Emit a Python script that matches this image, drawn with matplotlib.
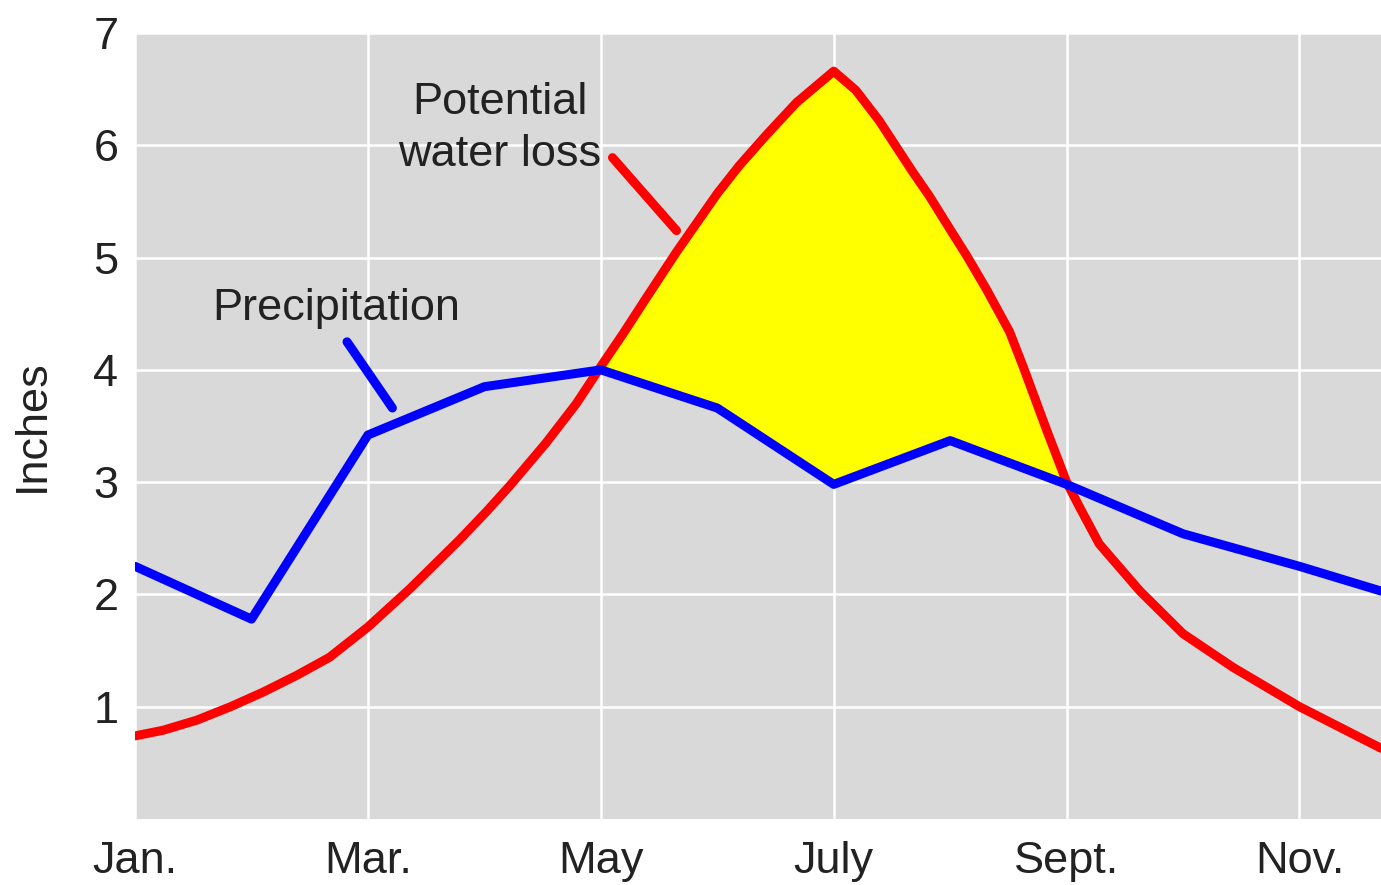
import numpy as np
import matplotlib
matplotlib.use('Agg')
import matplotlib.pyplot as plt

# 月份刻度
month_pos = [0, 2, 4, 6, 8, 10]
month_labels = ['Jan.', 'Mar.', 'May', 'July', 'Sept.', 'Nov.']

# 降水量（逐月，最后一点为图右边缘）
precip_x = [0, 1, 2, 3, 4, 5, 6, 7, 8, 9, 10, 10.7]
precip_y = [2.25, 1.78, 3.42, 3.85, 4.0, 3.66, 2.98, 3.37, 2.98, 2.54, 2.25, 2.03]

# 潜在失水量（沿曲线读取的点）
loss_x = [0, 0.24, 0.53, 0.82, 1.10, 1.39, 1.67, 2.0, 2.36, 2.79, 3.02, 3.22,
          3.53, 3.79, 4.0, 4.19, 4.39, 4.65, 5.0, 5.19, 5.42, 5.68, 6.0, 6.19,
          6.39, 6.68, 6.82, 7.0, 7.14, 7.31, 7.51, 7.63, 7.83, 8.0, 8.11, 8.28,
          8.43, 8.63, 9.0, 9.43, 10.0, 10.7]
loss_y = [0.74, 0.79, 0.88, 1.00, 1.13, 1.28, 1.44, 1.71, 2.05, 2.49, 2.74, 2.97,
          3.35, 3.70, 4.03, 4.32, 4.64, 5.05, 5.57, 5.82, 6.09, 6.38, 6.66, 6.49,
          6.22, 5.76, 5.55, 5.25, 5.02, 4.72, 4.34, 4.02, 3.46, 3.0, 2.78, 2.45,
          2.27, 2.03, 1.65, 1.35, 1.0, 0.63]

plt.rcParams['font.family'] = ['Liberation Sans', 'DejaVu Sans']

fig = plt.figure(figsize=(13.81, 8.85), dpi=100)
ax = fig.add_axes([0.0978, 0.0746, 0.9022, 0.8881])
ax.set_facecolor('#d9d9d9')

# 黄色填充：失水量高于降水量的部分
lx = np.array(loss_x)
ly = np.array(loss_y)
py_on_l = np.interp(lx, precip_x, precip_y)
ax.fill_between(lx, py_on_l, ly, where=ly >= py_on_l, interpolate=True,
                color='#ffff00', lw=0, zorder=2)

ax.plot(loss_x, loss_y, color='#ff0000', lw=6.5, solid_capstyle='round',
        solid_joinstyle='round', zorder=3)
ax.plot(precip_x, precip_y, color='#0000ff', lw=6.5, solid_capstyle='round',
        solid_joinstyle='round', zorder=4)

# 标注
ax.text(3.13, 6.15, 'Potential\nwater loss', ha='center', va='center',
        fontsize=32.5, color='#222222', linespacing=1.35, zorder=5)
ax.annotate('', xy=(4.65, 5.24), xytext=(4.10, 5.89),
            arrowprops=dict(arrowstyle='-', color='#ff0000', lw=6.5,
                            capstyle='round', shrinkA=0, shrinkB=0), zorder=5)
ax.text(1.73, 4.55, 'Precipitation', ha='center', va='center',
        fontsize=32.5, color='#222222', zorder=5)
ax.annotate('', xy=(2.21, 3.66), xytext=(1.82, 4.25),
            arrowprops=dict(arrowstyle='-', color='#0000ff', lw=6.5,
                            capstyle='round', shrinkA=0, shrinkB=0), zorder=5)

ax.set_xlim(0, 10.7)
ax.set_ylim(0, 7)
ax.set_xticks(month_pos)
ax.set_xticklabels(month_labels)
ax.set_yticks([1, 2, 3, 4, 5, 6, 7])
ax.grid(True, color='white', lw=1.8, zorder=1)
ax.set_axisbelow(True)
for s in ax.spines.values():
    s.set_visible(False)
ax.tick_params(axis='both', length=0, labelsize=32.5, labelcolor='#222222')
ax.tick_params(axis='x', pad=16)
ax.tick_params(axis='y', pad=12)
ax.set_ylabel('Inches', fontsize=32.5, color='#222222', labelpad=29)

fig.savefig('out.png', dpi=100)
